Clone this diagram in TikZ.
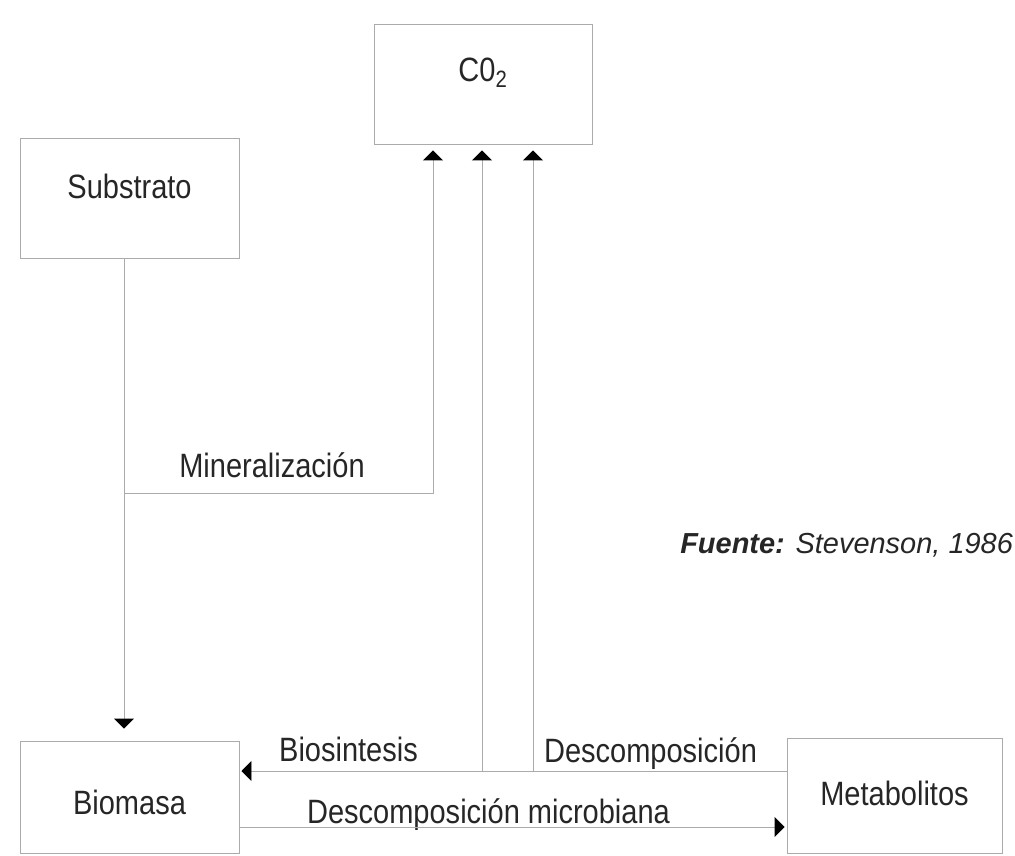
\documentclass[tikz,border=0pt]{standalone}
\usepackage{fontspec}
\setmainfont{Liberation Sans}
\newfontfamily\narrowsf[FakeStretch=0.86]{Liberation Sans}
\usetikzlibrary{arrows.meta}
\definecolor{linegray}{HTML}{ABABAB}
\definecolor{inkgray}{HTML}{262626}

\begin{document}
\begin{tikzpicture}[font=\narrowsf\fontsize{24}{28}\selectfont, text=inkgray,
  >={Triangle[length=2.5mm, width=5mm, color=black]},
  box/.style={draw=linegray, line width=0.7pt, inner sep=0pt, align=center},
  flow/.style={draw=linegray, line width=0.7pt, ->},
  lbl/.style={inner sep=0pt, anchor=base}]
\useasboundingbox (0,0) rectangle (25.375,21.375);
\node[box, minimum width=5.45cm, text height=1.45cm, text depth=1.55cm] (co2) at (12.075,19.275) {C0\textsubscript{2}};
\node[box, minimum width=5.475cm, text height=1.525cm, text depth=1.475cm] (sub) at (3.2375,16.425) {Substrato};
\node[box, minimum width=5.475cm, text height=1.825cm, text depth=0.975cm] (bio) at (3.2375,1.45) {Biomasa};
\node[box, minimum width=5.375cm, text height=1.675cm, text depth=1.2cm] (met) at (22.3625,1.4875) {Metabolitos};
\coordinate (jmin) at (3.1,9.05);
\coordinate (jd1) at (12.05,2.1);
\coordinate (jd2) at (13.325,2.1);
\coordinate (jmic) at (0,0.7);
\node[lbl] (tmin) at (6.8,9.45) {Mineralización};
\node[lbl] (tbio) at (8.7125,2.35) {Biosintesis};
\node[lbl] (tdes) at (16.2625,2.325) {Descomposición};
\node[lbl] (tmic) at (12.2125,0.8) {Descomposición microbiana};
\node[lbl, anchor=base west, font=\fontsize{20.6}{24}\selectfont] (src) at (17.0,7.55) {\textbf{\textit{Fuente:}} \textit{Stevenson, 1986}};
\draw[flow, shorten >=0.3cm] (sub.south -| jmin) -- (bio.north -| jmin);
\draw[flow, shorten >=0.15cm] (jmin) -| ([xshift=-1.25cm]co2.south);
\draw[flow, shorten >=0.05cm] (met.west |- jd1) -- (bio.east |- jd1);
\draw[flow, shorten >=0.15cm] (jd1) -- (co2.south -| jd1);
\draw[flow, shorten >=0.15cm] (jd2) -- (co2.south -| jd2);
\draw[flow, shorten >=0.05cm] (bio.east |- jmic) -- (met.west |- jmic);
\end{tikzpicture}
\end{document}
